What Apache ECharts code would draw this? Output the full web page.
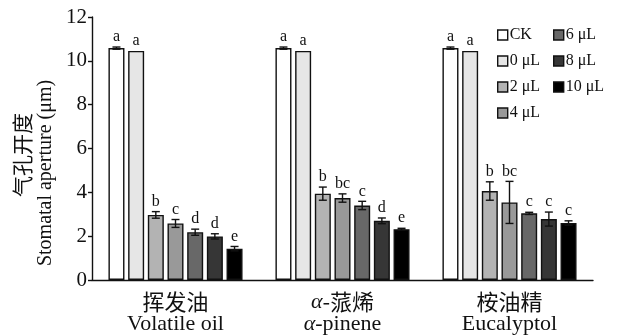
<!DOCTYPE html>
<html>
<head>
<meta charset="utf-8">
<script src="https://cdn.jsdelivr.net/npm/echarts@6/dist/echarts.min.js"></script>
<style>
  html, body { margin: 0; padding: 0; background: #fff; }
  #chart { width: 619px; height: 335px; }
</style>
</head>
<body>
<div id="chart"></div>
<script>
// Oil groups (Chinese / English)
const groupsZh = ['挥发油', 'α-蒎烯', '桉油精'];
const groupsEn = ['Volatile oil', 'α-pinene', 'Eucalyptol'];

// Treatments
const treatments = ['CK', '0 μL', '2 μL', '4 μL', '6 μL', '8 μL', '10 μL'];

// Stomatal aperture means (μm), one array per treatment across the three groups
const ckMean   = [10.58, 10.58, 10.58];
const d0Mean   = [10.45, 10.45, 10.45];
const d2Mean   = [2.97, 3.94, 4.06];
const d4Mean   = [2.58, 3.74, 3.54];
const d6Mean   = [2.18, 3.40, 3.04];
const d8Mean   = [1.99, 2.70, 2.78];
const d10Mean  = [1.43, 2.32, 2.60];

// Standard errors
const ckErr  = [0.05, 0.05, 0.05];
const d0Err  = [0, 0, 0];
const d2Err  = [0.15, 0.30, 0.42];
const d4Err  = [0.18, 0.19, 0.96];
const d6Err  = [0.14, 0.19, 0.05];
const d8Err  = [0.12, 0.13, 0.32];
const d10Err = [0.10, 0.04, 0.10];

// Significance letters
const ckSig  = ['a', 'a', 'a'];
const d0Sig  = ['a', 'a', 'a'];
const d2Sig  = ['b', 'b', 'b'];
const d4Sig  = ['c', 'bc', 'bc'];
const d6Sig  = ['d', 'c', 'c'];
const d8Sig  = ['d', 'd', 'c'];
const d10Sig = ['e', 'e', 'c'];

// Y axis ticks
const yMin = 0, yMax = 12, yStep = 2;

const means = [ckMean, d0Mean, d2Mean, d4Mean, d6Mean, d8Mean, d10Mean];
const errs = [ckErr, d0Err, d2Err, d4Err, d6Err, d8Err, d10Err];
const sigs = [ckSig, d0Sig, d2Sig, d4Sig, d6Sig, d8Sig, d10Sig];
const fills = ['#ffffff', '#e6e6e6', '#b3b3b3', '#999999', '#686868', '#363636', '#000000'];

const SERIF = '"Liberation Serif", "Times New Roman", serif';
const CJK = '"Noto Sans CJK SC", sans-serif';
const BAR_W = 16;
const GAP = 0.23;
const PITCH = BAR_W * (1 + GAP);
const nBars = treatments.length;

const series = [];
treatments.forEach((name, i) => {
  series.push({
    name: name,
    type: 'bar',
    barWidth: BAR_W,
    barGap: (GAP * 100) + '%',
    data: means[i],
    itemStyle: { color: fills[i], borderColor: '#111', borderWidth: 1.4 },
    emphasis: { disabled: true },
    z: 2
  });
});

// Error bars and significance letters, offset to sit on each bar
treatments.forEach((name, i) => {
  const offset = (i - (nBars - 1) / 2) * PITCH;
  series.push({
    type: 'custom',
    name: 'err-' + i,
    data: means[i].map((m, k) => [k, m, errs[i][k]]),
    z: 5,
    silent: true,
    renderItem: function (params, api) {
      const k = api.value(0), m = api.value(1), e = api.value(2);
      const top = api.coord([k, m + e]);
      const bot = api.coord([k, m - e]);
      const x = top[0] + offset;
      const cap = 4;
      const style = { stroke: '#111', lineWidth: 1.4 };
      const children = [];
      if (e > 0) {
        children.push({ type: 'line', shape: { x1: x, y1: top[1], x2: x, y2: bot[1] }, style: style });
        children.push({ type: 'line', shape: { x1: x - cap, y1: top[1], x2: x + cap, y2: top[1] }, style: style });
        children.push({ type: 'line', shape: { x1: x - cap, y1: bot[1], x2: x + cap, y2: bot[1] }, style: style });
      }
      children.push({
        type: 'text',
        style: {
          text: sigs[i][params.dataIndex],
          x: x, y: top[1] - 2,
          align: 'center', verticalAlign: 'bottom',
          font: '16px ' + SERIF, fill: '#111'
        }
      });
      return { type: 'group', children: children };
    }
  });
});

const chart = echarts.init(document.getElementById('chart'), null, { renderer: 'canvas' });

const legendCommon = {
  orient: 'vertical',
  icon: 'rect',
  itemWidth: 10,
  itemHeight: 10,
  itemGap: 10,
  selectedMode: false,
  textStyle: { fontFamily: SERIF, fontSize: 16, color: '#111', padding: [0, 0, 0, -3] },
  itemStyle: { borderColor: '#111', borderWidth: 1.4 }
};

chart.setOption({
  animation: false,
  backgroundColor: '#fff',
  grid: { left: 92, right: 26, top: 17, bottom: 55 },
  legend: [
    Object.assign({}, legendCommon, { left: 492, top: 22, data: treatments.slice(0, 4) }),
    Object.assign({}, legendCommon, { left: 548, top: 22, data: treatments.slice(4) })
  ],
  xAxis: {
    type: 'category',
    data: groupsZh.map((z, k) => k),
    axisLine: { lineStyle: { color: '#111', width: 1.4 } },
    axisTick: { show: false },
    axisLabel: {
      margin: 11,
      interval: 0,
      formatter: function (v) {
        const k = Number(v);
        if (k === 1) {
          return '{it|α}{zh|-蒎烯}\n{it|α}{en|-pinene}';
        }
        return '{zh|' + groupsZh[k] + '}\n{en|' + groupsEn[k] + '}';
      },
      rich: {
        zh: { fontFamily: CJK, fontSize: 22, color: '#111', lineHeight: 22 },
        en: { fontFamily: SERIF, fontSize: 22, color: '#111', lineHeight: 22 },
        it: { fontFamily: SERIF, fontSize: 22, fontStyle: 'italic', color: '#111', lineHeight: 22 }
      }
    }
  },
  yAxis: {
    type: 'value',
    min: yMin, max: yMax, interval: yStep,
    axisLine: { show: true, lineStyle: { color: '#111', width: 1.4 } },
    axisTick: { show: true, length: 4, lineStyle: { color: '#111', width: 1.4 } },
    splitLine: { show: false },
    axisLabel: { fontFamily: SERIF, fontSize: 21, color: '#111', margin: 5 }
  },
  graphic: [
    {
      type: 'text', x: 22, y: 155, rotation: Math.PI / 2,
      style: { text: '气孔开度', font: '21px ' + CJK, fill: '#111', align: 'center', verticalAlign: 'middle' }
    },
    {
      type: 'text', x: 46, y: 173, rotation: Math.PI / 2,
      style: { text: 'Stomatal aperture (μm)', font: '20px ' + SERIF, fill: '#111', align: 'center', verticalAlign: 'middle' }
    }
  ],
  series: series
});
</script>
</body>
</html>
